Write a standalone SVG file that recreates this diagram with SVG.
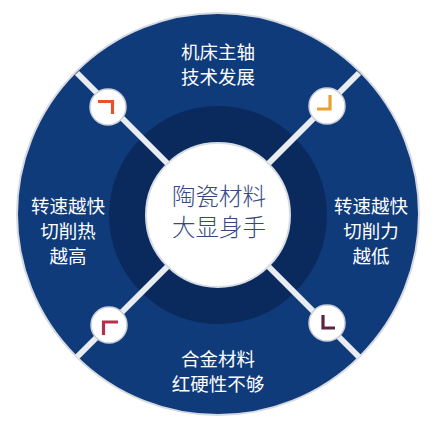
<svg xmlns="http://www.w3.org/2000/svg" width="447" height="431" viewBox="0 0 447 431">
<style>
.lbl{font-family:"Noto Sans CJK SC","Noto Sans",sans-serif;font-size:18.5px;fill:#ffffff;text-anchor:middle;}
.ctr{font-family:"Noto Sans CJK SC","Noto Sans",sans-serif;font-size:23.5px;font-weight:300;fill:#34497e;text-anchor:middle;}
.conn{stroke:#e9ecf0;stroke-width:6;stroke-linecap:butt;}
.dot{fill:#ffffff;stroke:#c9ced8;stroke-width:1.5;}
.ico{fill:none;stroke-width:3.2;stroke-linecap:butt;stroke-linejoin:miter;}
</style>
<rect width="447" height="431" fill="#ffffff"/>
<g id="ring">
<circle cx="218" cy="214" r="201" fill="#0f3b7b" stroke="#d6dae0" stroke-width="2"/>
<circle cx="218" cy="215" r="109" fill="#0a2a5e"/>
</g>
<g id="connectors">
<line class="conn" x1="77" y1="73" x2="168" y2="164"/>
<line class="conn" x1="359" y1="73" x2="268" y2="164"/>
<line class="conn" x1="77" y1="357" x2="168" y2="266"/>
<line class="conn" x1="359" y1="357" x2="268" y2="266"/>
</g>
<g id="center">
<circle cx="218" cy="215" r="72" fill="#ffffff" stroke="#d8dce3" stroke-width="2"/>
<text class="ctr" x="219" y="205">陶瓷材料</text>
<text class="ctr" x="219" y="236">大显身手</text>
</g>
<g id="top">
<text class="lbl" x="218" y="59">机床主轴</text>
<text class="lbl" x="218" y="84">技术发展</text>
</g>
<g id="left">
<text class="lbl" x="68" y="213">转速越快</text>
<text class="lbl" x="68" y="238">切削热</text>
<text class="lbl" x="68" y="263">越高</text>
</g>
<g id="right">
<text class="lbl" x="371" y="213">转速越快</text>
<text class="lbl" x="371" y="238">切削力</text>
<text class="lbl" x="371" y="263">越低</text>
</g>
<g id="bottom">
<text class="lbl" x="218" y="366">合金材料</text>
<text class="lbl" x="218" y="391">红硬性不够</text>
</g>
<g id="icon-tl">
<circle class="dot" cx="108" cy="107" r="18"/>
<path class="ico" stroke="#e2542c" d="M98,101.5 H112.5 V114"/>
</g>
<g id="icon-tr">
<circle class="dot" cx="327" cy="106" r="18"/>
<path class="ico" stroke="#e9a030" d="M317,109 H330 V95"/>
</g>
<g id="icon-bl">
<circle class="dot" cx="109" cy="325" r="18"/>
<path class="ico" stroke="#b3304c" d="M118,322 H103.5 V335"/>
</g>
<g id="icon-br">
<circle class="dot" cx="327" cy="323" r="18"/>
<path class="ico" stroke="#5b2445" d="M323,315 V328 H335"/>
</g>
</svg>
